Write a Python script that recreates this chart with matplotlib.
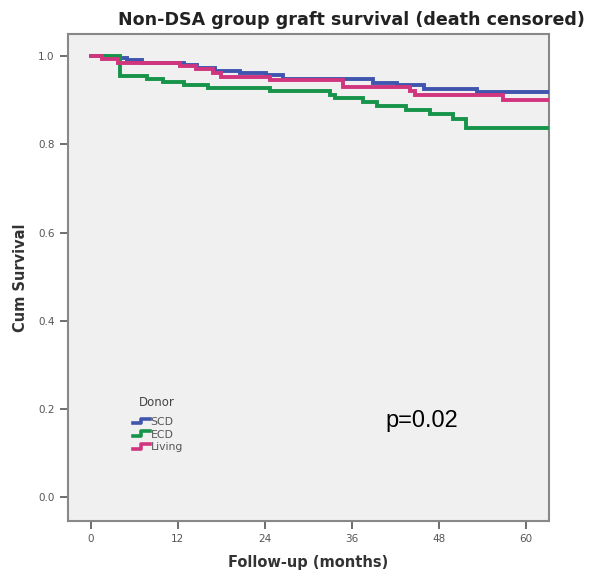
import matplotlib
matplotlib.use("Agg")
import matplotlib.pyplot as plt
from matplotlib.legend_handler import HandlerBase
from matplotlib.lines import Line2D

# ---- data ----
groups = ["SCD", "ECD", "Living"]
colors = ["#4055AE", "#17944A", "#D0357E"]

scd_t = [0, 2.0, 5.0, 7.1, 12.8, 14.7, 17.1, 20.6, 24.2, 26.5, 38.9, 42.2, 46.0, 53.2]
scd_s = [1.0, 0.996, 0.991, 0.985, 0.980, 0.973, 0.967, 0.962, 0.956, 0.947, 0.940, 0.935, 0.925, 0.918]

ecd_t = [0, 4.0, 7.8, 10.0, 12.8, 16.1, 24.7, 33.0, 33.7, 37.5, 39.4, 43.5, 46.8, 50.0, 51.8]
ecd_s = [1.0, 0.955, 0.948, 0.942, 0.935, 0.928, 0.920, 0.912, 0.904, 0.896, 0.887, 0.878, 0.868, 0.857, 0.838]

liv_t = [0, 1.5, 3.8, 12.3, 14.5, 16.8, 18.0, 24.7, 34.8, 44.0, 44.7, 56.8]
liv_s = [1.0, 0.993, 0.985, 0.978, 0.970, 0.962, 0.952, 0.946, 0.930, 0.920, 0.912, 0.901]

t_end = 63.2
xticks = [0, 12, 24, 36, 48, 60]
yticks = [0.0, 0.2, 0.4, 0.6, 0.8, 1.0]

fig = plt.figure(figsize=(5.98, 5.77), dpi=100)
ax = fig.add_axes([0.1132, 0.0976, 0.8050, 0.8435])
ax.set_facecolor("#F0F0F0")

series = [(scd_t, scd_s), (ecd_t, ecd_s), (liv_t, liv_s)]
order = [1, 0, 2]
for i in order:
    t, s = series[i]
    ax.step(list(t) + [t_end], list(s) + [s[-1]], where="post",
            color=colors[i], lw=2.8, solid_joinstyle="miter", zorder=3 + i)

ax.set_xlim(-3.2, 63.2)
ax.set_ylim(-0.053, 1.050)
ax.set_xticks(xticks)
ax.set_xticklabels([str(v) for v in xticks])
ax.set_yticks(yticks)
ax.set_yticklabels([f"{v:.1f}" for v in yticks])
ax.tick_params(axis="both", direction="out", length=6, width=1.2,
               color="#555555", labelcolor="#555555", labelsize=7.5,
               top=False, right=False)
for sp in ax.spines.values():
    sp.set_color("#888888")
    sp.set_linewidth(1.5)

ax.set_xlabel("Follow-up (months)", fontsize=10.5, fontweight="bold",
              color="#333333", labelpad=8)
ax.set_ylabel("Cum Survival", fontsize=10.5, fontweight="bold",
              color="#333333", labelpad=7)

fig.text(0.587, 0.966, "Non-DSA group graft survival (death censored)",
         ha="center", va="center", fontsize=12.6, fontweight="bold", color="#222222")


class StepHandler(HandlerBase):
    def create_artists(self, legend, orig_handle, xdescent, ydescent,
                       width, height, fontsize, trans):
        w, h = width, height
        xs = [-xdescent, -xdescent + 0.45 * w, -xdescent + 0.45 * w, -xdescent + w]
        ys = [-ydescent + 0.2 * h, -ydescent + 0.2 * h, -ydescent + 0.8 * h, -ydescent + 0.8 * h]
        ln = Line2D(xs, ys, color=orig_handle.get_color(), lw=2.6, transform=trans)
        return [ln]


ax.text(0.185, 0.242, "Donor", transform=ax.transAxes, fontsize=8.5,
        color="#444444", ha="center", va="center")
handles = [Line2D([], [], color=c) for c in colors]
leg = ax.legend(handles, groups, loc="upper left",
                bbox_to_anchor=(0.12, 0.229), frameon=False,
                handler_map={Line2D: StepHandler()}, handlelength=1.55,
                handletextpad=0.05, labelspacing=0.25, fontsize=7.8,
                borderpad=0.2)
for txt in leg.get_texts():
    txt.set_color("#555555")

ax.text(0.66, 0.205, "p=0.02", transform=ax.transAxes, fontsize=17,
        family="Liberation Sans", color="black", ha="left", va="center")

fig.savefig("out.png", dpi=100)
